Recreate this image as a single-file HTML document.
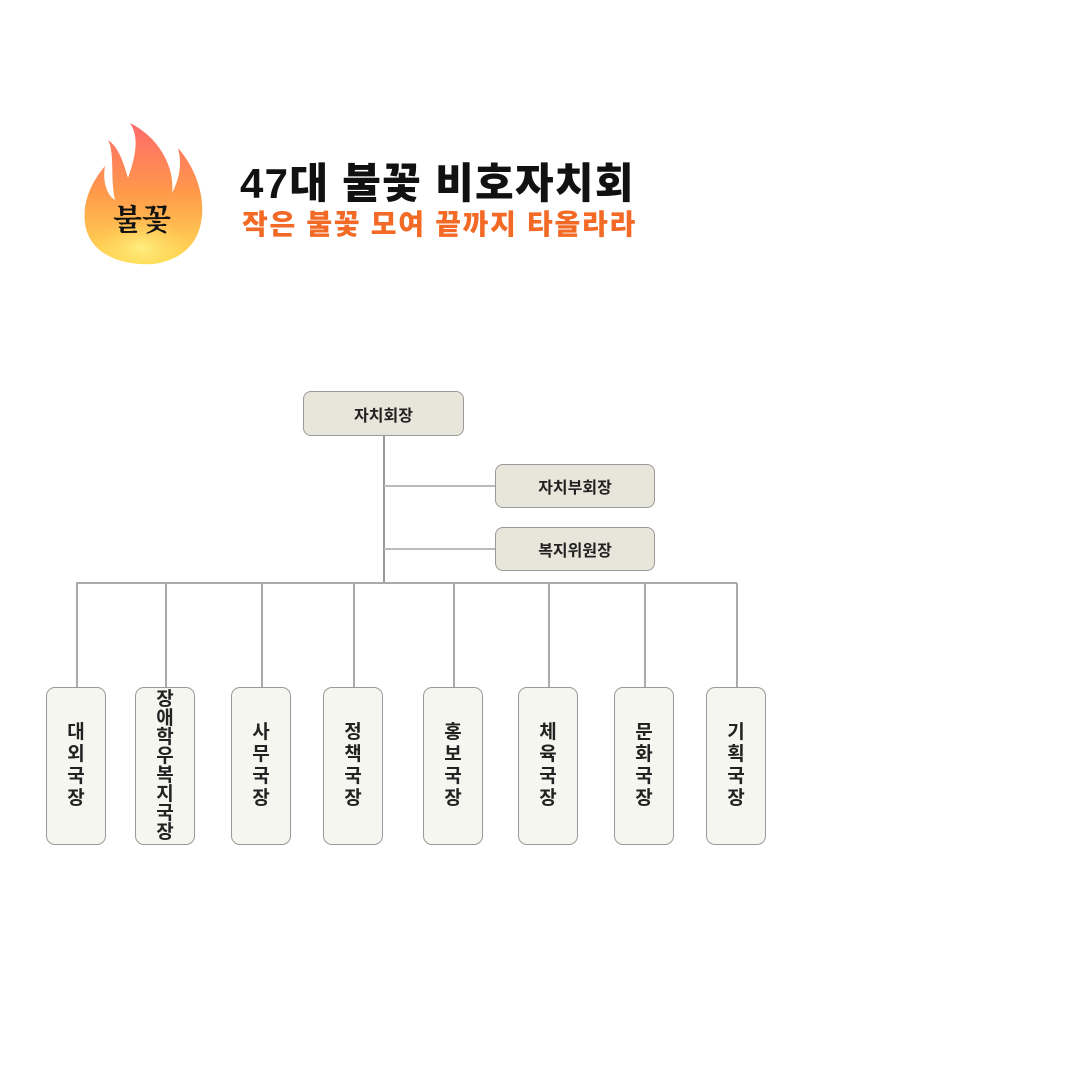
<!DOCTYPE html>
<html><head><meta charset="utf-8"><style>
body{margin:0;width:1080px;height:1080px;background:#fff;position:relative;overflow:hidden;font-family:"Liberation Sans","Noto Sans CJK KR",sans-serif}
.t{position:absolute;left:240px;top:160px;font-size:42px;font-weight:900;color:#111;letter-spacing:1.3px;line-height:48px}
.s{position:absolute;left:242px;top:207px;font-size:28px;font-weight:900;color:#f26a25;letter-spacing:1.7px;line-height:36px}
.b{position:absolute;background:#e8e6da;border:1.5px solid #999;border-radius:8px;box-sizing:border-box;display:flex;align-items:center;justify-content:center;font-weight:bold;font-size:16px;color:#222}
.v{position:absolute;top:687px;width:60px;height:158px;background:#f6f6f1;border:1.5px solid #999;border-radius:9px;box-sizing:border-box;display:flex;align-items:center;justify-content:center;text-align:center;font-weight:bold;font-size:19px;color:#222;line-height:22px}
.l{position:absolute;background:#999}
</style></head><body>
<svg style="position:absolute;left:80px;top:118px" width="130" height="150" viewBox="0 0 130 150">
<defs><linearGradient id="g" x1="0" y1="0" x2="0" y2="1"><stop offset="0" stop-color="#ff6a6a"/><stop offset="0.5" stop-color="#ff9a4a"/><stop offset="1" stop-color="#ffe055"/></linearGradient>
<radialGradient id="h" cx="0.5" cy="0.75" r="0.5"><stop offset="0" stop-color="#fff080"/><stop offset="1" stop-color="#ffd060" stop-opacity="0"/></radialGradient></defs>
<path d="M50 5 C80 20 95 50 92 75 C100 60 102 45 98 30 C120 55 128 90 118 115 C108 140 80 148 60 146 C30 144 8 130 5 105 C2 80 15 60 25 48 C22 65 28 78 35 82 C30 60 35 35 28 22 C40 30 45 50 48 60 C55 40 60 20 50 5Z" fill="url(#g)"/>
<ellipse cx="62" cy="115" rx="50" ry="30" fill="url(#h)"/>
<text x="62" y="112" text-anchor="middle" font-family="Liberation Serif,Noto Serif CJK SC,serif" font-size="30" font-weight="bold" fill="#111">불꽃</text>
</svg>
<div class="t">47대 불꽃 비호자치회</div>
<div class="s">작은 불꽃 모여 끝까지 타올라라</div>

<div class="l" style="left:383px;top:436px;width:2px;height:148px"></div>
<div class="l" style="left:384px;top:485px;width:111px;height:2px;background:#bbb"></div>
<div class="l" style="left:384px;top:548px;width:111px;height:2px;background:#bbb"></div>
<div class="l" style="left:76px;top:582px;width:661px;height:2px;background:#aaa"></div>
<div class="l" style="left:76px;top:583px;width:1.5px;height:104px;background:#aaa"></div>
<div class="l" style="left:165px;top:583px;width:1.5px;height:104px;background:#aaa"></div>
<div class="l" style="left:261px;top:583px;width:1.5px;height:104px;background:#aaa"></div>
<div class="l" style="left:353px;top:583px;width:1.5px;height:104px;background:#aaa"></div>
<div class="l" style="left:453px;top:583px;width:1.5px;height:104px;background:#aaa"></div>
<div class="l" style="left:548px;top:583px;width:1.5px;height:104px;background:#aaa"></div>
<div class="l" style="left:644px;top:583px;width:1.5px;height:104px;background:#aaa"></div>
<div class="l" style="left:736px;top:583px;width:1.5px;height:104px;background:#aaa"></div>

<div class="b" style="left:303px;top:391px;width:161px;height:45px">자치회장</div>
<div class="b" style="left:495px;top:464px;width:160px;height:44px">자치부회장</div>
<div class="b" style="left:495px;top:527px;width:160px;height:44px">복지위원장</div>

<div class="v" style="left:46px">대<br>외<br>국<br>장</div>
<div class="v" style="left:135px;line-height:19px">장<br>애<br>학<br>우<br>복<br>지<br>국<br>장</div>
<div class="v" style="left:231px">사<br>무<br>국<br>장</div>
<div class="v" style="left:323px">정<br>책<br>국<br>장</div>
<div class="v" style="left:423px">홍<br>보<br>국<br>장</div>
<div class="v" style="left:518px">체<br>육<br>국<br>장</div>
<div class="v" style="left:614px">문<br>화<br>국<br>장</div>
<div class="v" style="left:706px">기<br>획<br>국<br>장</div>
</body></html>
